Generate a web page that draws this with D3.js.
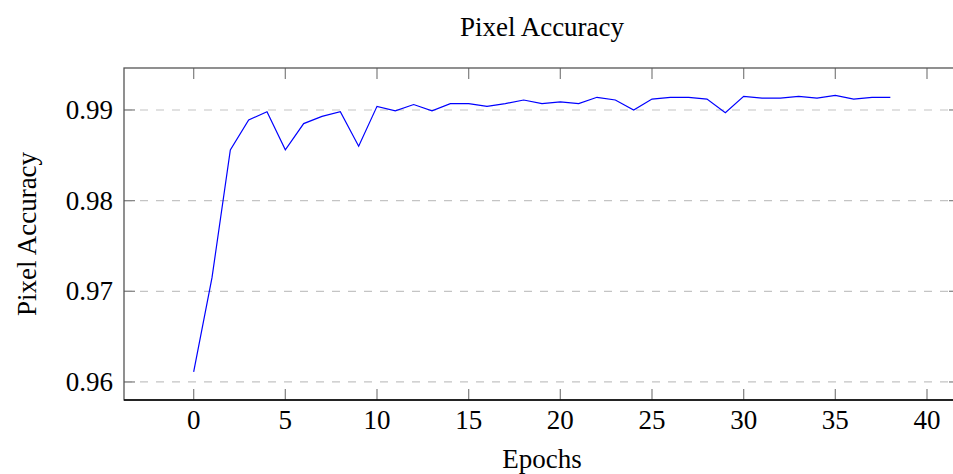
<!DOCTYPE html>
<html>
<head>
<meta charset="utf-8">
<script src="https://cdn.jsdelivr.net/npm/d3@7"></script>
<style>
  body { margin: 0; background: #fff; }
  text { font-family: "Liberation Serif", "DejaVu Serif", serif; fill: #000; }
</style>
</head>
<body>
<svg id="chart" width="953" height="474"></svg>
<script>
// epochs and pixel accuracy
const epochs = d3.range(0, 39);
const accuracy = [
  0.9611, 0.9715, 0.9856, 0.9889, 0.9898, 0.9856, 0.9885, 0.9893, 0.9898, 0.9860,
  0.9904, 0.9899, 0.9906, 0.9899, 0.9907, 0.9907, 0.9904, 0.9907, 0.9911, 0.9907,
  0.9909, 0.9907, 0.9914, 0.9911, 0.9900, 0.9912, 0.9914, 0.9914, 0.9912, 0.9897,
  0.9915, 0.9913, 0.9913, 0.9915, 0.9913, 0.9916, 0.9912, 0.9914, 0.9914
];
const xTicks = [0, 5, 10, 15, 20, 25, 30, 35, 40];
const yTicks = [0.96, 0.97, 0.98, 0.99];

const svg = d3.select('#chart');
const plotLeft = 124, plotRight = 960, plotTop = 68, plotBottom = 400;
const tickLen = 11;
const fontSize = '27px';

const x = d3.scaleLinear().domain([-3.8, 41.8]).range([plotLeft, plotRight]);
const y = d3.scaleLinear().domain([0.95801, 0.99463]).range([plotBottom, plotTop]);

// dashed horizontal grid
svg.append('g').selectAll('line').data(yTicks).join('line')
  .attr('x1', plotLeft).attr('x2', plotRight)
  .attr('y1', d => y(d)).attr('y2', d => y(d))
  .attr('stroke', '#c4c4c4').attr('stroke-width', 1.2)
  .attr('stroke-dasharray', '8,8');

// inward ticks on all four sides
const ticks = svg.append('g').attr('stroke', '#888').attr('stroke-width', 1.3);
xTicks.forEach(t => {
  ticks.append('line').attr('x1', x(t)).attr('x2', x(t)).attr('y1', plotBottom).attr('y2', plotBottom - tickLen);
  ticks.append('line').attr('x1', x(t)).attr('x2', x(t)).attr('y1', plotTop).attr('y2', plotTop + tickLen);
});
yTicks.forEach(t => {
  ticks.append('line').attr('x1', plotLeft).attr('x2', plotLeft + tickLen).attr('y1', y(t)).attr('y2', y(t));
  ticks.append('line').attr('x1', plotRight).attr('x2', plotRight - tickLen).attr('y1', y(t)).attr('y2', y(t));
});

// the data line
const line = d3.line().x((d, i) => x(epochs[i])).y(d => y(d));
svg.append('path').datum(accuracy)
  .attr('d', line)
  .attr('fill', 'none')
  .attr('stroke', '#0000ff')
  .attr('stroke-width', 1.2);

// frame
svg.append('rect')
  .attr('x', plotLeft).attr('y', plotTop)
  .attr('width', plotRight - plotLeft).attr('height', plotBottom - plotTop)
  .attr('fill', 'none').attr('stroke', '#555').attr('stroke-width', 1.3);
svg.append('line')
  .attr('x1', plotLeft).attr('x2', plotRight).attr('y1', plotBottom).attr('y2', plotBottom)
  .attr('stroke', '#000').attr('stroke-width', 1.3);

// tick labels
svg.append('g').selectAll('text').data(xTicks).join('text')
  .attr('x', d => x(d)).attr('y', 429)
  .attr('text-anchor', 'middle')
  .style('font-size', fontSize)
  .text(d => d);

svg.append('g').selectAll('text').data(yTicks).join('text')
  .attr('x', plotLeft - 11).attr('y', d => y(d))
  .attr('dy', '0.34em')
  .attr('text-anchor', 'end')
  .style('font-size', fontSize)
  .text(d => d3.format('.2f')(d));

// title and axis labels
svg.append('text')
  .attr('x', (plotLeft + plotRight) / 2).attr('y', 36)
  .attr('text-anchor', 'middle')
  .style('font-size', fontSize)
  .text('Pixel Accuracy');

svg.append('text')
  .attr('x', (plotLeft + plotRight) / 2).attr('y', 468)
  .attr('text-anchor', 'middle')
  .style('font-size', fontSize)
  .text('Epochs');

svg.append('text')
  .attr('transform', `translate(36,${(plotTop + plotBottom) / 2}) rotate(-90)`)
  .attr('text-anchor', 'middle')
  .style('font-size', fontSize)
  .text('Pixel Accuracy');
</script>
</body>
</html>
